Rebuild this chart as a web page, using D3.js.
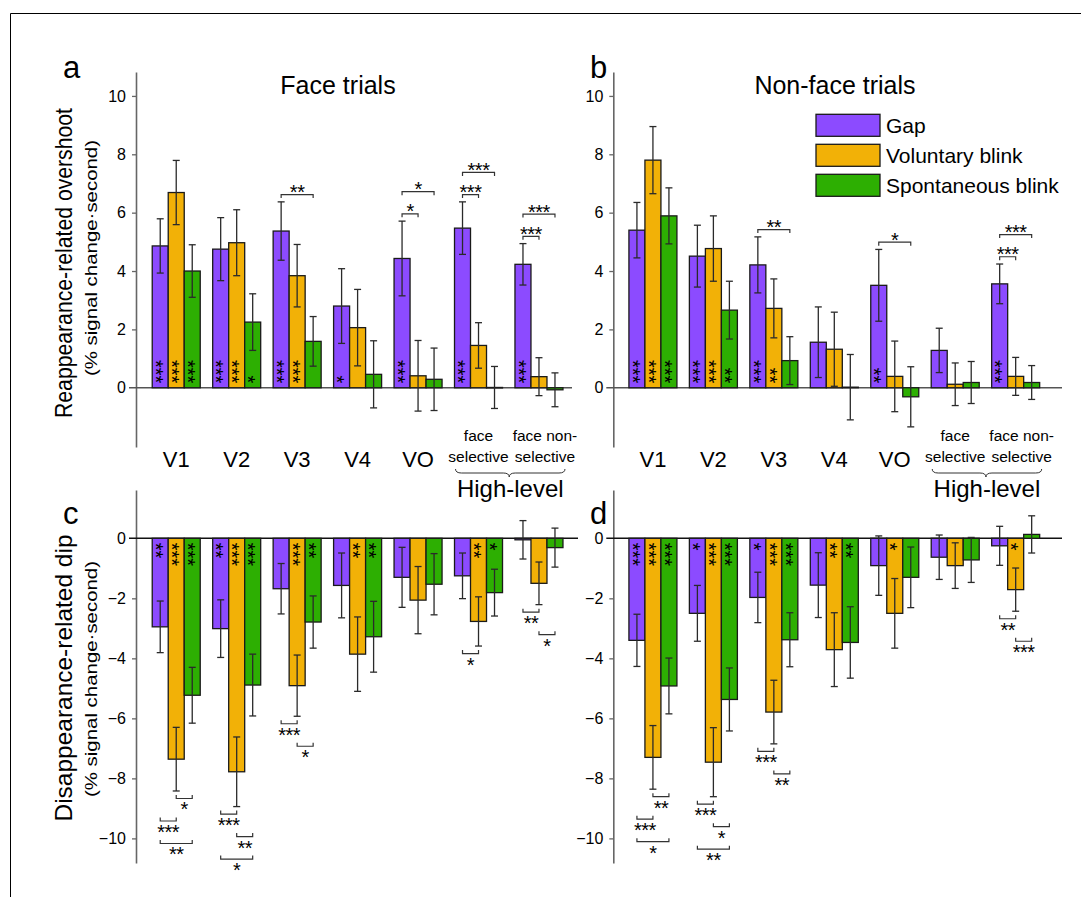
<!DOCTYPE html>
<html><head><meta charset="utf-8">
<script src="https://cdn.jsdelivr.net/npm/d3@7"></script>
<style>
body{margin:0;background:#fff}
svg text{font-family:"Liberation Sans",Arial,Helvetica,sans-serif;fill:#000}
</style>
</head><body>
<svg id="chart" width="1081" height="911"></svg>
<script>
// ---------------- DATA ----------------
const regions = ["V1","V2","V3","V4","VO","face selective","face non-selective"];
const regionLabelLines = [["V1"],["V2"],["V3"],["V4"],["VO"],["face","selective"],["face non-","selective"]];
const conditions = ["Gap","Voluntary blink","Spontaneous blink"];
const colors = ["#8c4bff","#f2b107","#2daf02"];
const upperTicks = [0,2,4,6,8,10];
const lowerTicks = [0,-2,-4,-6,-8,-10];

// Reappearance-related overshoot, Face trials (a)
const overshootFace = [[4.86,6.69,4.00],[4.75,4.97,2.25],[5.37,3.84,1.59],[2.80,2.06,0.46],[4.43,0.41,0.29],[5.47,1.45,0.01],[4.23,0.38,-0.07]];
const overshootFaceSE = [[0.93,1.10,0.90],[1.08,1.13,0.97],[1.00,1.07,0.85],[1.28,1.31,1.15],[1.28,1.21,1.07],[0.90,0.78,0.72],[0.71,0.65,0.58]];
// Reappearance-related overshoot, Non-face trials (b)
const overshootNonFace = [[5.40,7.80,5.89],[4.51,4.77,2.66],[4.21,2.72,0.93],[1.56,1.32,0.02],[3.51,0.39,-0.31],[1.28,0.12,0.18],[3.56,0.39,0.18]];
const overshootNonFaceSE = [[0.95,1.15,0.96],[1.06,1.12,0.99],[0.96,1.01,0.82],[1.21,1.27,1.12],[1.23,1.21,1.03],[0.76,0.73,0.72],[0.68,0.65,0.58]];
// Disappearance-related dip, Face trials (c)
const dipFace = [[-2.95,-7.36,-5.23],[-3.01,-7.78,-4.89],[-1.68,-4.91,-2.79],[-1.57,-3.86,-3.28],[-1.30,-2.06,-1.53],[-1.25,-2.77,-1.81],[-0.05,-1.50,-0.31]];
const dipFaceSE = [[0.86,1.06,0.93],[0.96,1.16,1.03],[0.84,1.02,0.87],[1.08,1.24,1.18],[1.00,1.12,1.02],[0.76,0.82,0.78],[0.64,0.71,0.65]];
// Disappearance-related dip, Non-face trials (d)
const dipNonFace = [[-3.40,-7.30,-4.92],[-2.50,-7.46,-5.37],[-1.97,-5.79,-3.38],[-1.56,-3.71,-3.47],[-0.91,-2.50,-1.30],[-0.63,-0.91,-0.72],[-0.25,-1.71,0.13]];
const dipNonFaceSE = [[0.87,1.06,0.93],[0.93,1.15,1.05],[0.84,1.06,0.90],[1.08,1.23,1.19],[0.99,1.16,1.01],[0.74,0.76,0.75],[0.65,0.72,0.62]];

// number of significance stars inside each bar (vs. zero)
const starsA = [[3,3,3],[3,3,1],[3,3,0],[1,0,0],[3,0,0],[3,0,0],[3,0,0]];
const starsB = [[3,3,3],[3,3,2],[3,2,0],[0,0,0],[2,0,0],[0,0,0],[3,0,0]];
const starsC = [[2,3,3],[2,3,3],[0,3,2],[0,2,2],[0,0,0],[0,2,1],[0,0,0]];
const starsD = [[3,3,3],[1,3,3],[1,3,3],[0,2,2],[0,1,0],[0,0,0],[0,1,0]];

// pairwise comparisons: [region index, condition A, condition B, stars], listed in stacking order
const compA = [[2,0,2,2],[4,0,1,1],[4,0,2,1],[5,0,1,3],[5,0,2,3],[6,0,1,3],[6,0,2,3]];
const compB = [[2,0,2,2],[4,0,2,1],[6,0,1,3],[6,0,2,3]];
const compC = [[0,1,2,1],[0,0,1,3],[0,0,2,2],[1,0,1,3],[1,1,2,2],[1,0,2,1],[2,0,1,3],[2,1,2,1],[5,0,1,1],[6,0,1,2],[6,1,2,1]];
const compD = [[0,1,2,2],[0,0,1,3],[0,0,2,1],[1,0,1,3],[1,1,2,1],[1,0,2,2],[2,0,1,3],[2,1,2,2],[6,0,1,2],[6,1,2,3]];

// ---------------- DRAWING ----------------
const svg = d3.select("#chart");
const FONT = "'Liberation Sans',Arial,sans-serif";
const STAR_ADV = 0.389*20; // advance of "*" at 20px

// frame
svg.append("path").attr("d","M10.5,897 L10.5,13.5 L1081,13.5").attr("fill","none").attr("stroke","#000").attr("stroke-width",1);

function drawPanel(cfg){
  const g = svg.append("g");
  const x = d3.scaleBand().domain(regions).range(cfg.xRange).paddingInner(0.206).paddingOuter(0.103);
  const xs = d3.scaleBand().domain(conditions).range([0, x.bandwidth()]);
  const y = d3.scaleLinear().domain(cfg.yDomain).range(cfg.yRange);

  // axis
  const ax = g.append("g").attr("transform",`translate(${cfg.axisX},0)`)
    .call(d3.axisLeft(y).tickValues(cfg.ticks).tickSize(4).tickSizeOuter(0).tickPadding(6));
  ax.select(".domain").attr("stroke","#666").attr("stroke-width",1.6);
  ax.selectAll(".tick line").attr("stroke","#666").attr("stroke-width",1.3);
  ax.selectAll(".tick text").attr("font-size",16).attr("font-family",FONT).attr("fill","#111");
  ax.selectAll(".tick").filter(d=>d===0).select("line").remove();

  // zero line
  g.append("line").attr("x1",cfg.axisX-7).attr("x2",cfg.zeroEnd)
    .attr("y1",y(0)).attr("y2",y(0))
    .attr("stroke",cfg.upper?"#555":"#111").attr("stroke-width",1.5);

  const means = cfg.means, ses = cfg.ses;
  const flat = [];
  regions.forEach((r,i)=>conditions.forEach((c,j)=>flat.push({r,i,c,j,v:means[i][j],se:ses[i][j],n:cfg.stars[i][j]})));

  // bars
  g.selectAll("rect.bar").data(flat).join("rect").attr("class","bar")
    .attr("x",d=>x(d.r)+xs(d.c))
    .attr("width",xs.bandwidth())
    .attr("y",d=>Math.min(y(d.v),y(0)))
    .attr("height",d=>Math.max(Math.abs(y(d.v)-y(0)),0.5))
    .attr("fill",d=>colors[d.j])
    .attr("stroke","#1a1a1a").attr("stroke-width",1.3);

  // error bars
  const eb = g.append("g").attr("stroke","#2a2a2a").attr("stroke-width",1.3);
  flat.forEach(d=>{
    const cx = x(d.r)+xs(d.c)+xs.bandwidth()/2;
    const y1 = y(d.v+d.se), y2 = y(d.v-d.se);
    eb.append("line").attr("x1",cx).attr("x2",cx).attr("y1",y1).attr("y2",y2);
    eb.append("line").attr("x1",cx-3.5).attr("x2",cx+3.5).attr("y1",y1).attr("y2",y1);
    eb.append("line").attr("x1",cx-3.5).attr("x2",cx+3.5).attr("y1",y2).attr("y2",y2);
  });

  // in-bar stars: one vertical (rotated) text per stack
  const st = g.append("g");
  flat.filter(d=>d.n>0).forEach(d=>{
    const cx = x(d.r)+xs(d.c)+xs.bandwidth()/2;
    const len = d.n*STAR_ADV;
    const mid = cfg.upper ? y(0)-4.4-len/2 : y(0)+4.4+len/2;
    st.append("text").attr("transform",`translate(${cx},${mid}) rotate(90)`)
      .attr("x",0).attr("y",11.3).attr("text-anchor","middle")
      .attr("font-size",20).attr("font-family",FONT).text("*".repeat(d.n));
  });

  // pairwise comparisons
  const levelCount = {};
  const cg = g.append("g");
  cfg.comps.forEach(([ri,a,b,n])=>{
    const lvl = levelCount[ri] || 0; levelCount[ri] = lvl+1;
    const r = regions[ri];
    const xa = x(r)+xs(conditions[a])+xs.bandwidth()/2;
    const xb = x(r)+xs(conditions[b])+xs.bandwidth()/2;
    let yv;
    if(cfg.upper){
      const top = d3.max(means[ri].map((m,j)=>m+ses[ri][j]));
      yv = top + 0.25 + lvl*0.76;
    } else {
      const bot = d3.min(means[ri].map((m,j)=>m-ses[ri][j]));
      yv = bot - 0.25 - lvl*0.75;
    }
    const yy = y(yv);
    const t = cfg.upper ? 3.5 : -3.5;
    cg.append("path").attr("d",`M${xa},${yy+t} L${xa},${yy} L${xb},${yy} L${xb},${yy+t}`)
      .attr("fill","none").attr("stroke","#333").attr("stroke-width",1.2);
    const cy = cfg.upper ? yy-5.5 : yy+8;
    cg.append("text").attr("x",(xa+xb)/2).attr("y",cy+10).attr("text-anchor","middle")
      .attr("font-size",20).attr("letter-spacing",-0.5).attr("font-family",FONT).text("*".repeat(n));
  });

  // category labels
  if(cfg.upper){
    const lg = g.append("g");
    regionLabelLines.forEach((lines,i)=>{
      const cx = x(regions[i])+x.bandwidth()/2;
      if(lines.length===1){
        lg.append("text").attr("x",cx).attr("y",cfg.labelY).attr("text-anchor","middle")
          .attr("font-size",22).attr("font-family",FONT).text(lines[0]);
      } else {
        const off = i===6 ? 6 : 0;
        lg.append("text").attr("x",cx+off).attr("y",cfg.labelY-26).attr("text-anchor","middle")
          .attr("font-size",15.5).attr("font-family",FONT).text(lines[0]);
        lg.append("text").attr("x",cx+off).attr("y",cfg.labelY-5).attr("text-anchor","middle")
          .attr("font-size",15.5).attr("font-family",FONT).text(lines[1]);
      }
    });
    // brace for high-level
    const x0 = x(regions[5]) + 1, x1 = x(regions[6]) + x.bandwidth() + 2;
    const xm = (x0+x1)/2 - 1, y0 = cfg.labelY + 2, h = 8, rr = 6;
    lg.append("path")
      .attr("d",`M${x0},${y0} Q${x0},${y0+h/2} ${x0+rr},${y0+h/2} L${xm-rr},${y0+h/2} Q${xm},${y0+h/2} ${xm},${y0+h} Q${xm},${y0+h/2} ${xm+rr},${y0+h/2} L${x1-rr},${y0+h/2} Q${x1},${y0+h/2} ${x1},${y0}`)
      .attr("fill","none").attr("stroke","#333").attr("stroke-width",1);
    lg.append("text").attr("x",xm+1).attr("y",cfg.labelY+30).attr("text-anchor","middle")
      .attr("font-size",24).attr("font-family",FONT).text("High-level");
  }
  return {x,y};
}

drawPanel({axisX:136, xRange:[146,569.2], yDomain:[-2.03,10.82], yRange:[447,72], zeroEnd:572,
  means:overshootFace, ses:overshootFaceSE, stars:starsA, comps:compA, upper:true, ticks:upperTicks, labelY:467});
drawPanel({axisX:613.3, xRange:[622.7,1045.9], yDomain:[-2.03,10.82], yRange:[447,72], zeroEnd:1062,
  means:overshootNonFace, ses:overshootNonFaceSE, stars:starsB, comps:compB, upper:true, ticks:upperTicks, labelY:467});
drawPanel({axisX:136, xRange:[146,569.2], yDomain:[-10.82,1.61], yRange:[863,490], zeroEnd:578,
  means:dipFace, ses:dipFaceSE, stars:starsC, comps:compC, upper:false, ticks:lowerTicks});
drawPanel({axisX:613.3, xRange:[622.7,1045.9], yDomain:[-10.82,1.61], yRange:[863,490], zeroEnd:1062,
  means:dipNonFace, ses:dipNonFaceSE, stars:starsD, comps:compD, upper:false, ticks:lowerTicks});

// titles
svg.append("text").attr("x",338).attr("y",94).attr("text-anchor","middle").attr("font-size",25).text("Face trials");
svg.append("text").attr("x",835).attr("y",94).attr("text-anchor","middle").attr("font-size",25).text("Non-face trials");

// panel letters
[["a",63,78],["b",590,78],["c",63,524],["d",590,524]].forEach(([t,xx,yy])=>{
  svg.append("text").attr("x",xx).attr("y",yy).attr("font-size",31).text(t);
});

// y-axis titles
function vtitle(txt, cx, cy, size, len){
  svg.append("text").attr("transform",`translate(${cx},${cy}) rotate(-90)`)
    .attr("text-anchor","middle").attr("font-size",size)
    .attr("textLength",len).attr("lengthAdjust","spacingAndGlyphs").text(txt);
}
vtitle("Reappearance-related overshoot", 72, 263, 24, 310);
vtitle("(% signal change·second)", 97, 258, 17, 236);
vtitle("Disappearance-related dip", 72, 678, 24, 287);
vtitle("(% signal change·second)", 97, 679, 17, 236);

// legend
const leg = svg.append("g");
conditions.forEach((c,i)=>{
  const ty = 114.3 + i*30;
  leg.append("rect").attr("x",816).attr("y",ty).attr("width",64).attr("height",22)
    .attr("fill",colors[i]).attr("stroke","#1a1a1a").attr("stroke-width",1.3);
  leg.append("text").attr("x",886).attr("y",ty+18.5).attr("font-size",21).text(c);
});
</script>
</body></html>
